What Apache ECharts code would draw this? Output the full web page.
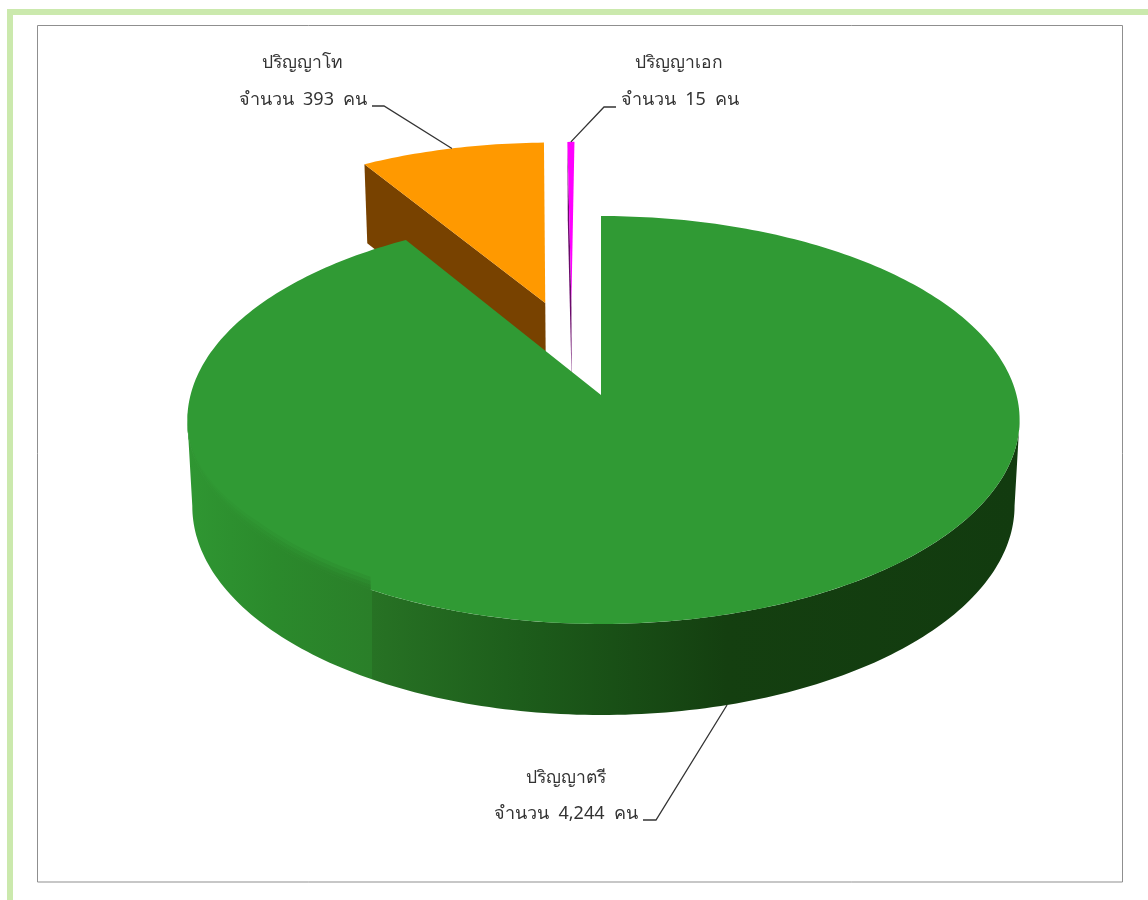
<!DOCTYPE html>
<html><head><meta charset="utf-8">
<style>html,body{margin:0;padding:0;background:#fff}#c{width:1148px;height:900px}</style>
<script src="https://cdn.jsdelivr.net/npm/echarts@6/dist/echarts.min.js"></script>
</head><body><div id="c"></div>
<script>
// ---- data ----
const categories = ['ปริญญาตรี', 'ปริญญาโท', 'ปริญญาเอก'];
const values = [4244, 393, 15];
// ---- styles and layout ----
const topColors = ['#309a34', '#ff9900', '#ff00ff'];
const wallColors = [null, '#784200', '#6a0a6a'];
const explode = [[0, 0], [-0.143, 0.485], [-0.076, 0.49]];
const stacking = [3, 1, 2];
const nameAt = [[566, 778], [302, 63], [679, 63]];
const valueAt = [[566, 814], [303, 100], [680, 100]];
const elbows = [[[656, 820], [643, 820]], [[384, 106], [372, 106]], [[604, 107], [616, 107]]];
const labelFont = '"Noto Sans", "DejaVu Sans", sans-serif';

// ---- perspective pie projection ----
const AX = 601, AY = 395, RX = 413, RY = 200.9, K = 0.1225, DEPTH = 85.3, SHRINK = 0.988;
function project(u, v, low, bend) {
  const w = 1 + K * v;
  let x = AX + RX * u / w + (bend ? 2.5 * u * u : 0);
  let y = AY - RY * v / w;
  if (low) { x = AX + (x - AX) * SHRINK; y += DEPTH / Math.sqrt(w); }
  return [x, y];
}
function rim(deg, off, low) {
  const t = deg * Math.PI / 180;
  return project(Math.sin(t) + off[0], Math.cos(t) + off[1], low, off[0] === 0);
}
function arc(a, b, off, low) {
  const n = Math.max(2, Math.ceil(Math.abs(b - a)));
  const p = [];
  for (let i = 0; i <= n; i++) p.push(rim(a + (b - a) * i / n, off, low));
  return p;
}
const total = values.reduce((s, v) => s + v, 0);
let acc = 0;
const spans = values.map(v => { const a = acc; acc += v / total * 360; return [a, acc]; });
const fmt = v => v.toLocaleString('en-US');

const greenWall = new echarts.graphic.LinearGradient(190, 0, 1016, 0, [
  { offset: 0, color: '#2f9632' },
  { offset: 0.1, color: '#2b8a2c' },
  { offset: 0.22, color: '#2a7f29' },
  { offset: 0.2205, color: '#277224' },
  { offset: 0.4, color: '#1d5d1b' },
  { offset: 0.65, color: '#143f10' },
  { offset: 1, color: '#123b0f' }
], true);

// soft shading of the left rim: thin layers that fade into the top surface
function softBand(off, z) {
  const edge = arc(210, 265, off, false).map(p => [p[0], p[1] + 2]);
  return [[13, 0.3], [9, 0.45], [5, 0.6], [2, 0.8]].map(([lift, alpha], n) => {
    const raised = edge.map((p, j) => {
      const deg = 210 + 55 * j / (edge.length - 1);
      return [p[0], p[1] - 2 - lift * Math.min(1, (265 - deg) / 35)];
    });
    return { type: 'polygon', z2: z + 0.6 + n * 0.01, shape: { points: edge.concat(raised.reverse()) },
      style: { fill: greenWall, opacity: alpha } };
  });
}

function renderSlice(params, api) {
  const i = params.dataIndex;
  const val = api.value(0);
  const [a, b] = spans[i];
  const off = explode[i];
  const z = stacking[i];
  const children = [];
  const apex = project(off[0], off[1], false);
  const apexLow = project(off[0], off[1], true);
  if (i === 0) {
    const top = arc(97, 263, off, false);
    const low = arc(97, 263, off, true).reverse();
    children.push({ type: 'polygon', z2: z, shape: { points: top.concat(low) }, style: { fill: greenWall } });
  } else {
    children.push({ type: 'polygon', z2: z, shape: { points: [rim(a, off, false), apex, apexLow, rim(a, off, true)] },
      style: { fill: wallColors[i] } });
  }
  children.push({ type: 'polygon', z2: z + 0.5, shape: { points: [apex].concat(arc(a, b, off, false)) },
    style: { fill: topColors[i] } });
  if (i === 0) softBand(off, z).forEach(el => children.push(el));
  // leader line from the middle of the slice's rim
  const mid = (a + b) / 2;
  const anchor = i === 0 ? rim(mid, off, true) : rim(mid, off, false);
  children.push({ type: 'polyline', z2: 10, shape: { points: [anchor].concat(elbows[i]) },
    style: { stroke: '#333', lineWidth: 1.3, fill: null } });
  children.push({ type: 'text', z2: 11, x: nameAt[i][0], y: nameAt[i][1],
    style: { text: categories[i], fill: '#333', font: '17.5px ' + labelFont, align: 'center', verticalAlign: 'middle' } });
  children.push({ type: 'text', z2: 11, x: valueAt[i][0], y: valueAt[i][1],
    style: { text: 'จำนวน  ' + fmt(val) + '  คน', fill: '#333', font: '18px ' + labelFont, align: 'center', verticalAlign: 'middle' } });
  return { type: 'group', children };
}

const chart = echarts.init(document.getElementById('c'), null, { renderer: 'canvas' });
chart.setOption({
  animation: false,
  backgroundColor: '#ffffff',
  graphic: [
    { type: 'rect', shape: { x: 7, y: 9, width: 1141, height: 6 }, style: { fill: '#cbe9ad' }, silent: true },
    { type: 'rect', shape: { x: 7, y: 9, width: 6, height: 891 }, style: { fill: '#cbe9ad' }, silent: true },
    { type: 'rect', shape: { x: 37.5, y: 25.5, width: 1085, height: 856.5 }, style: { fill: 'none', stroke: '#8f8f8f', lineWidth: 1 }, silent: true }
  ],
  series: [{
    type: 'custom',
    coordinateSystem: 'none',
    silent: true,
    data: values.map((v, i) => ({ name: categories[i], value: [v] })),
    renderItem: renderSlice
  }]
});
</script></body></html>
